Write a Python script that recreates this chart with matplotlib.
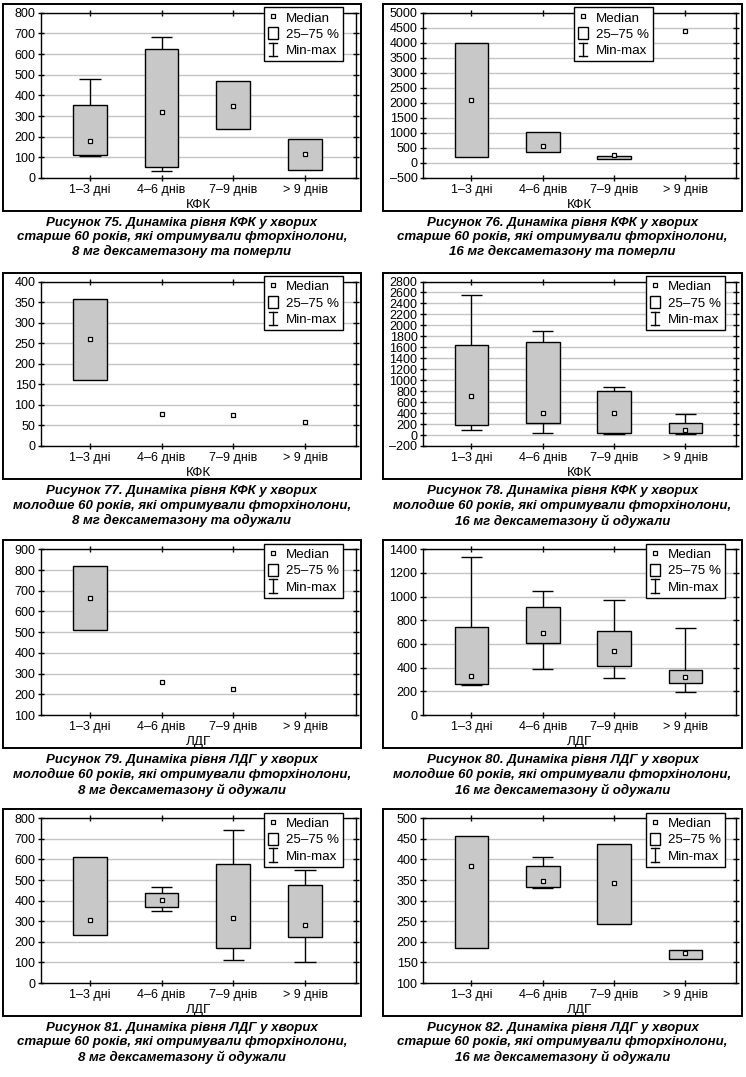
import numpy as np
import matplotlib
matplotlib.use('Agg')
import matplotlib.pyplot as plt
from matplotlib.lines import Line2D
from matplotlib.patches import Patch, Rectangle
from matplotlib.legend_handler import HandlerBase

plt.rcParams['font.family'] = ['Liberation Sans', 'DejaVu Sans']

nan = np.nan
days = ['1–3 дні', '4–6 днів', '7–9 днів', '> 9 днів']

# Рисунок 75 (КФК)
f75_med = [180, 319, 349, 116]
f75_q1 = [110, 53, 237, 39]
f75_q3 = [355, 622, 469, 187]
f75_min = [105, 32, nan, nan]
f75_max = [480, 680, nan, nan]

# Рисунок 76 (КФК)
f76_med = [2090, 557, 267, 4400]
f76_q1 = [205, 356, 122, nan]
f76_q3 = [4000, 1036, 245, nan]
f76_min = [nan, nan, nan, nan]
f76_max = [nan, nan, nan, nan]

# Рисунок 77 (КФК)
f77_med = [260, 77, 75, 59]
f77_q1 = [160, nan, nan, nan]
f77_q3 = [358, nan, nan, nan]
f77_min = [nan, nan, nan, nan]
f77_max = [nan, nan, nan, nan]

# Рисунок 78 (КФК)
f78_med = [710, 400, 400, 91]
f78_q1 = [176, 224, 42, 42]
f78_q3 = [1650, 1703, 812, 224]
f78_min = [85, 45, 24, 24]
f78_max = [2550, 1900, 880, 390]

# Рисунок 79 (ЛДГ)
f79_med = [665, 259, 224, nan]
f79_q1 = [509, nan, nan, nan]
f79_q3 = [818, nan, nan, nan]
f79_min = [nan, nan, nan, nan]
f79_max = [nan, nan, nan, nan]

# Рисунок 80 (ЛДГ)
f80_med = [331, 693, 540, 317]
f80_q1 = [263, 611, 416, 271]
f80_q3 = [745, 913, 713, 382]
f80_min = [255, 387, 314, 195]
f80_max = [1335, 1044, 973, 735]

# Рисунок 81 (ЛДГ)
f81_med = [305, 402, 318, 283]
f81_q1 = [233, 368, 170, 223]
f81_q3 = [611, 436, 577, 478]
f81_min = [nan, 349, 111, 102]
f81_max = [nan, 465, 742, 548]

# Рисунок 82 (ЛДГ)
f82_med = [383, 348, 343, 172]
f82_q1 = [184, 334, 244, 159]
f82_q3 = [456, 383, 437, 181]
f82_min = [nan, 330, nan, nan]
f82_max = [nan, 405, nan, nan]

captions = [
    'Рисунок 75. Динаміка рівня КФК у хворих\nстарше 60 років, які отримували фторхінолони,\n8 мг дексаметазону та померли',
    'Рисунок 76. Динаміка рівня КФК у хворих\nстарше 60 років, які отримували фторхінолони,\n16 мг дексаметазону та померли',
    'Рисунок 77. Динаміка рівня КФК у хворих\nмолодше 60 років, які отримували фторхінолони,\n8 мг дексаметазону та одужали',
    'Рисунок 78. Динаміка рівня КФК у хворих\nмолодше 60 років, які отримували фторхінолони,\n16 мг дексаметазону й одужали',
    'Рисунок 79. Динаміка рівня ЛДГ у хворих\nмолодше 60 років, які отримували фторхінолони,\n8 мг дексаметазону й одужали',
    'Рисунок 80. Динаміка рівня ЛДГ у хворих\nмолодше 60 років, які отримували фторхінолони,\n16 мг дексаметазону й одужали',
    'Рисунок 81. Динаміка рівня ЛДГ у хворих\nстарше 60 років, які отримували фторхінолони,\n8 мг дексаметазону й одужали',
    'Рисунок 82. Динаміка рівня ЛДГ у хворих\nстарше 60 років, які отримували фторхінолони,\n16 мг дексаметазону й одужали',
]


class MinMaxHandle:
    pass


class HandlerMinMax(HandlerBase):
    def create_artists(self, legend, orig_handle, xdescent, ydescent,
                       width, height, fontsize, trans):
        cx = width / 2 - xdescent
        y0 = -ydescent - 0.5
        y1 = height - ydescent + 0.5
        w = width * 0.42
        arts = [Line2D([cx, cx], [y0, y1]),
                Line2D([cx - w, cx + w], [y0, y0]),
                Line2D([cx - w, cx + w], [y1, y1])]
        for a in arts:
            a.set_color('k')
            a.set_linewidth(1)
            a.set_transform(trans)
        return arts


def draw_panel(ax, med, q1, q3, lo, hi, ylims, xlabel, leg_x):
    x = np.arange(len(days))
    med, q1, q3 = np.array(med, float), np.array(q1, float), np.array(q3, float)
    lo, hi = np.array(lo, float), np.array(hi, float)
    ax.set_axisbelow(True)
    ax.yaxis.grid(True, color='#c4c4c4', lw=1)

    ok = ~np.isnan(hi)
    ax.vlines(x[ok], q3[ok], hi[ok], color='k', lw=1, zorder=2)
    ax.hlines(hi[ok], x[ok] - 0.15, x[ok] + 0.15, color='k', lw=1, zorder=2)
    ok = ~np.isnan(lo)
    ax.vlines(x[ok], lo[ok], q1[ok], color='k', lw=1, zorder=2)
    ax.hlines(lo[ok], x[ok] - 0.15, x[ok] + 0.15, color='k', lw=1, zorder=2)

    ok = ~np.isnan(q1)
    ax.bar(x[ok], q3[ok] - q1[ok], bottom=q1[ok], width=0.47,
           color='#c8c8c8', edgecolor='k', lw=1, zorder=3)
    ax.plot(x, med, ls='none', marker='s', ms=3.5, mfc='white', mec='k',
            mew=0.9, zorder=4)

    ymin, ymax, step = ylims
    ticks = np.arange(ymin, ymax + step / 2, step)
    ax.set_ylim(ymin, ymax)
    ax.set_yticks(ticks)
    ax.set_yticklabels([f'{t:.0f}'.replace('-', '–') for t in ticks])
    ax.set_xlim(-0.68, 3.71)
    ax.set_xticks(x)
    ax.set_xticklabels(days)
    ax.set_xlabel(xlabel, fontsize=9.6, labelpad=2.5)
    ax.tick_params(labelsize=9.0, direction='inout', length=4, width=1,
                   top=True, right=True, pad=2)
    for s in ax.spines.values():
        s.set_linewidth(1)

    handles = [Line2D([], [], ls='none', marker='s', ms=3.5, mfc='white', mec='k', mew=0.9),
               Patch(facecolor='white', edgecolor='k', lw=1),
               MinMaxHandle()]
    leg = ax.legend(handles, ['Median', '25–75 %', 'Min-max'],
                    handler_map={MinMaxHandle: HandlerMinMax()},
                    loc='upper right', bbox_to_anchor=(leg_x, 1.034),
                    fontsize=9.6, fancybox=False, framealpha=1, edgecolor='k',
                    borderpad=0.3, labelspacing=0.2, handlelength=0.75,
                    handleheight=1.0, handletextpad=0.6, borderaxespad=0)
    leg.get_frame().set_linewidth(1)
    leg.set_zorder(10)


W, H = 746, 1077
fig = plt.figure(figsize=(W / 100, H / 100), dpi=100)

col_x = [(41, 356), (423, 736)]
row_y = [(12.7, 178), (281.5, 446), (549.3, 715), (818.3, 983)]
frame_x = [(3, 361), (383, 742)]
frame_y = [(4, 211), (273, 479), (540, 748), (809, 1016)]

panels = [
    (f75_med, f75_q1, f75_q3, f75_min, f75_max, (0, 800, 100), 'КФК', 0.959),
    (f76_med, f76_q1, f76_q3, f76_min, f76_max, (-500, 5000, 500), 'КФК', 0.735),
    (f77_med, f77_q1, f77_q3, f77_min, f77_max, (0, 400, 50), 'КФК', 0.959),
    (f78_med, f78_q1, f78_q3, f78_min, f78_max, (-200, 2800, 200), 'КФК', 0.965),
    (f79_med, f79_q1, f79_q3, f79_min, f79_max, (100, 900, 100), 'ЛДГ', 0.959),
    (f80_med, f80_q1, f80_q3, f80_min, f80_max, (0, 1400, 200), 'ЛДГ', 0.965),
    (f81_med, f81_q1, f81_q3, f81_min, f81_max, (0, 800, 100), 'ЛДГ', 0.959),
    (f82_med, f82_q1, f82_q3, f82_min, f82_max, (100, 500, 50), 'ЛДГ', 0.965),
]

for k, p in enumerate(panels):
    r, c = divmod(k, 2)
    x0, x1 = col_x[c]
    y0, y1 = row_y[r]
    ax = fig.add_axes([x0 / W, 1 - y1 / H, (x1 - x0) / W, (y1 - y0) / H])
    draw_panel(ax, *p)

    fx0, fx1 = frame_x[c]
    fy0, fy1 = frame_y[r]
    fig.add_artist(Rectangle((fx0 / W, 1 - fy1 / H), (fx1 - fx0) / W, (fy1 - fy0) / H,
                             transform=fig.transFigure, fill=False, ec='k', lw=1.4))
    fig.text((fx0 + fx1) / 2 / W, 1 - (fy1 + 6) / H, captions[k], ha='center', va='top',
             fontsize=9.5, fontweight='bold', style='italic', linespacing=1.22)

fig.savefig('out.png', dpi=100)
